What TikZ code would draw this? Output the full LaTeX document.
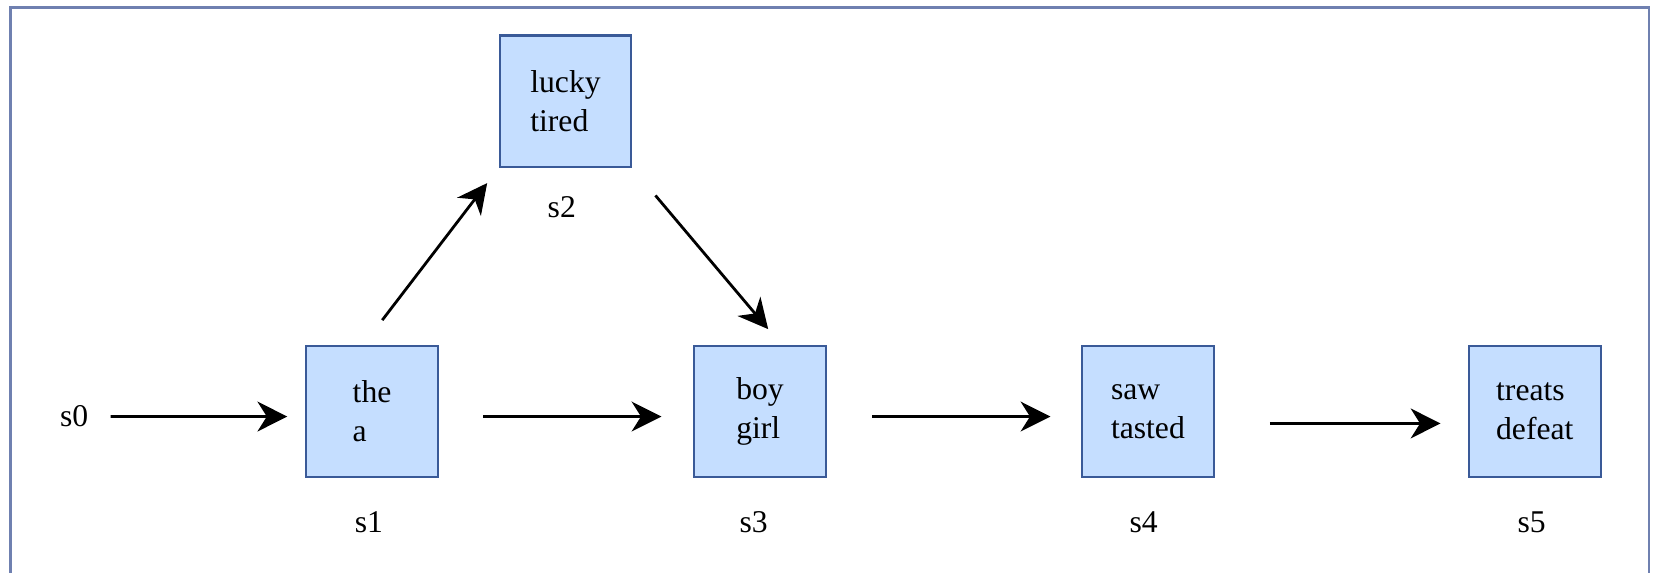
\documentclass[tikz,border=0pt]{standalone}
\usepackage{fontspec}
\setmainfont{Liberation Serif}
\usetikzlibrary{arrows.meta}
\definecolor{boxfill}{HTML}{C5DEFF}
\definecolor{boxline}{HTML}{3A5A98}
\definecolor{frameline}{HTML}{6F80B0}

\begin{document}
\begin{tikzpicture}[x=0.02cm, y=0.02cm,
		state/.style={rectangle, draw=boxline, fill=boxfill, line width=1.1pt, minimum size=2.48cm, align=left, font=\fontsize{17}{21}\selectfont},
		lbl/.style={font=\fontsize{17}{21}\selectfont},
		edge/.style={-{Stealth[length=16pt, width=16pt, inset=5pt]}, line width=1.5pt}]
		\useasboundingbox (0,0) rectangle (1568,540);
		\draw[frameline, line width=1.2pt] (10,-5) -- (10,533) -- (1556,533) -- (1556,-5);

		\path (351, 152) node[state] (the) {the\\a}
  		(533.5, 444.5) node[state] (lucky) {lucky\\tired}
  		(717, 152) node[state] (boy) {boy\\girl}
  		(1083, 152) node[state] (saw) {saw\\tasted}
  		(1448, 152) node[state] (treats) {treats\\defeat}
  		(70, 147) node[lbl] (s0) {s0}
  		(348, 47) node[lbl] (s1) {s1}
  		(530, 345) node[lbl] (s2) {s2}
  		(711, 47) node[lbl] (s3) {s3}
  		(1079, 47) node[lbl] (s4) {s4}
  		(1445, 47) node[lbl] (s5) {s5};

		\draw[edge, shorten <=0.3cm, shorten >=0.34cm] (s0.east) -- ([yshift=-0.1cm]the.west);
		\draw[edge, shorten <=0.84cm, shorten >=0.6cm] ([yshift=-0.1cm]the.east) -- ([yshift=-0.1cm]boy.west);
		\draw[edge, shorten <=0.86cm, shorten >=0.58cm] ([yshift=-0.1cm]boy.east) -- ([yshift=-0.1cm]saw.west);
		\draw[edge, shorten <=1.04cm, shorten >=0.52cm] ([yshift=-0.23cm]saw.east) -- ([yshift=-0.23cm]treats.west);
		\draw[edge, shorten <=0.58cm, shorten >=0.36cm] ([xshift=-0.16cm]the.north) -- (lucky.south west);
		\draw[edge, shorten <=0.68cm, shorten >=0.38cm] (lucky.south east) -- ([xshift=0.4cm]boy.north);
	\end{tikzpicture}
\end{document}
